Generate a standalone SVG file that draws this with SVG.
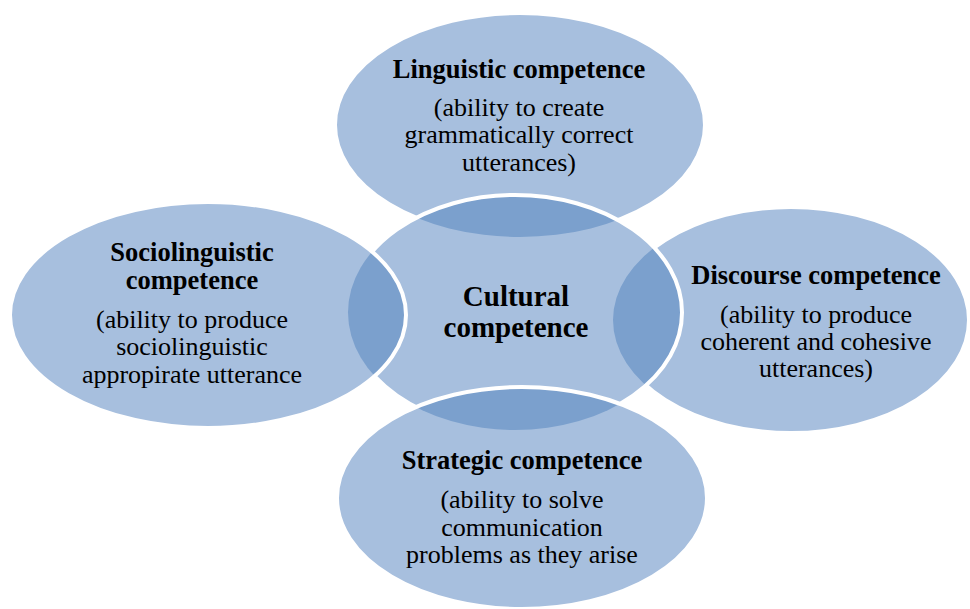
<svg xmlns="http://www.w3.org/2000/svg" xmlns:xlink="http://www.w3.org/1999/xlink" width="970" height="609" viewBox="0 0 970 609">
  <style>
    .fill { fill: #A7BFDE; }
    .lens { fill: #7BA0CD; }
    .edge { fill: none; stroke: #FFFFFF; stroke-width: 4; }
    text { font-family: "Liberation Serif", "Times New Roman", serif; fill: #000000; text-anchor: middle; }
    .title { font-weight: bold; font-size: 26.5px; }
    .body { font-size: 26px; }
    .core { font-weight: bold; font-size: 29px; }
  </style>
  <defs>
    <ellipse id="e-top" cx="520" cy="125" rx="185" ry="112"/>
    <ellipse id="e-right" cx="791" cy="320" rx="178" ry="113"/>
    <ellipse id="e-center" cx="515" cy="312.5" rx="167" ry="117.5"/>
    <ellipse id="e-left" cx="208" cy="315" rx="198" ry="113"/>
    <ellipse id="e-bottom" cx="522" cy="498" rx="185" ry="111"/>
    <clipPath id="clip-top-right">
      <use xlink:href="#e-top"/>
      <use xlink:href="#e-right"/>
    </clipPath>
    <clipPath id="clip-left"><use xlink:href="#e-left"/></clipPath>
    <clipPath id="clip-bottom"><use xlink:href="#e-bottom"/></clipPath>
  </defs>

  <!-- outer circle: linguistic -->
  <g id="node-linguistic">
    <use xlink:href="#e-top" class="fill"/>
    <use xlink:href="#e-top" class="edge"/>
    <text class="title" x="519" y="78">Linguistic competence</text>
    <text class="body" x="519" y="116">(ability to create</text>
    <text class="body" x="519" y="143">grammatically correct</text>
    <text class="body" x="519" y="171">utterances)</text>
  </g>

  <!-- outer circle: discourse -->
  <g id="node-discourse">
    <use xlink:href="#e-right" class="fill"/>
    <use xlink:href="#e-right" class="edge"/>
  </g>

  <!-- central circle, drawn over linguistic and discourse -->
  <g id="node-cultural">
    <use xlink:href="#e-center" class="fill"/>
    <use xlink:href="#e-center" class="lens" clip-path="url(#clip-top-right)"/>
    <use xlink:href="#e-center" class="edge"/>
  </g>

  <!-- outer circle: sociolinguistic, drawn over the centre -->
  <g id="node-sociolinguistic">
    <use xlink:href="#e-left" class="fill"/>
    <use xlink:href="#e-center" class="lens" clip-path="url(#clip-left)"/>
    <use xlink:href="#e-left" class="edge"/>
    <text class="title" x="192" y="261">Sociolinguistic</text>
    <text class="title" x="192" y="289">competence</text>
    <text class="body" x="192" y="328">(ability to produce</text>
    <text class="body" x="192" y="355">sociolinguistic</text>
    <text class="body" x="192" y="383">appropirate utterance</text>
  </g>

  <!-- outer circle: strategic, drawn over the centre -->
  <g id="node-strategic">
    <use xlink:href="#e-bottom" class="fill"/>
    <use xlink:href="#e-center" class="lens" clip-path="url(#clip-bottom)"/>
    <use xlink:href="#e-bottom" class="edge"/>
    <text class="title" x="522" y="469">Strategic competence</text>
    <text class="body" x="522" y="508">(ability to solve</text>
    <text class="body" x="522" y="536">communication</text>
    <text class="body" x="522" y="563">problems as they arise</text>
  </g>

  <!-- labels for discourse and centre sit above all shapes -->
  <g id="labels">
    <text class="title" x="816" y="284">Discourse competence</text>
    <text class="body" x="816" y="323">(ability to produce</text>
    <text class="body" x="816" y="350">coherent and cohesive</text>
    <text class="body" x="816" y="377">utterances)</text>
    <text class="core" x="516" y="306">Cultural</text>
    <text class="core" x="516" y="337">competence</text>
  </g>

  <g id="connectors"></g>
</svg>
